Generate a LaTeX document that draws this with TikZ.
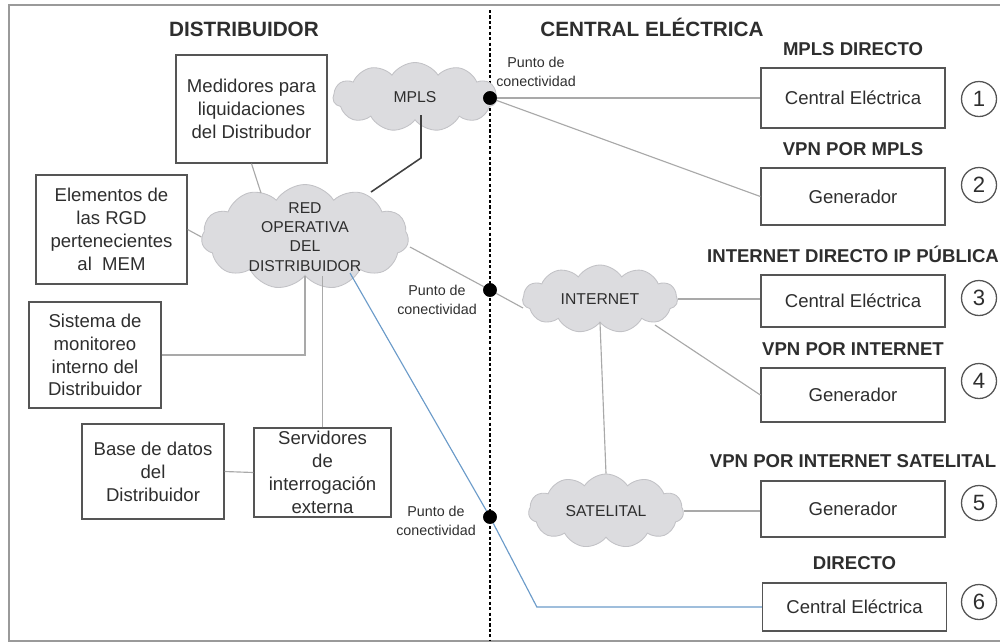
\documentclass[tikz,border=0pt]{standalone}
\usepackage{fontspec}
\setmainfont{Liberation Sans}
\usetikzlibrary
  {
    positioning,     % place nodes relative to other nodes
    shapes.symbols,  % cloud shape
    calc,
  }

\definecolor{txtgray}{HTML}{2E2E2E}
\definecolor{boxgray}{HTML}{555555}
\definecolor{linkgray}{HTML}{A9A9A9}
\definecolor{darklink}{HTML}{404040}
\definecolor{cloudfill}{HTML}{DCDCDF}
\definecolor{cloudline}{HTML}{C2C2C6}
\definecolor{linkblue}{HTML}{6B9BC9}
\definecolor{framegray}{HTML}{9A9A9A}

\begin{document}
\begin{tikzpicture}[x=0.7pt,y=-0.7pt,inner sep=0,
    box/.style={draw=boxgray,line width=0.9pt,align=center,text=txtgray,
                font=\fontsize{13}{16}\selectfont},
    nube/.style={cloud,cloud puffs=11,cloud puff arc=115,cloud ignores aspect,
                 fill=cloudfill,draw=cloudline,line width=0.6pt,align=center,
                 text=txtgray,font=\fontsize{11}{13.5}\selectfont},
    cabecera/.style={font=\fontsize{13}{13}\bfseries,text=txtgray,
                     text height=9.5pt,text depth=0pt},
    titulo/.style={font=\fontsize{14.5}{14.5}\bfseries,text=txtgray},
    etiq/.style={align=center,text=txtgray,font=\fontsize{10}{12.8}\selectfont},
    punto/.style={circle,fill=black,minimum size=9.5pt},
    num/.style={circle,draw=boxgray,line width=0.9pt,minimum size=24.5pt,
                text=txtgray,font=\fontsize{15.5}{15.5}\selectfont},
    link/.style={draw=linkgray,line width=0.8pt},
  ]
    \useasboundingbox (0,0) rectangle (1000,643);
    % frame and divider
    \draw[framegray,line width=1.4pt] (1000,5) -- (9,5) -- (9,641) -- (1000,641);
    \draw[black,line width=1pt,dash pattern=on 2.2pt off 1.6pt] (490,10) -- (490,641);

    \node (tdist) [titulo] at (244,29) {DISTRIBUIDOR};
    \node (tcent) [titulo] at (652,27) {CENTRAL ELÉCTRICA};

    % distribuidor side
    \node (med) [box,minimum width=105.7pt,minimum height=75.6pt] at (251.5,109)
          {Medidores para\\liquidaciones\\del Distribudor};
    \node (elem) [box,minimum width=105.7pt,minimum height=76.3pt] at (111.5,229.5)
          {Elementos de\\las RGD\\pertenecientes\\al~ MEM};
    \node (sis) [box,minimum width=92.4pt,minimum height=74.2pt] at (95,355)
          {Sistema de\\monitoreo\\interno del\\Distribuidor};
    \node (bd) [box,minimum width=99.4pt,minimum height=66.5pt] at (153,471.5)
          {Base de datos\\del\\Distribuidor};
    \node (serv) [box,minimum width=95.9pt,minimum height=62.3pt] at (322.5,472.5)
          {Servidores\\de\\interrogación\\externa};

    \node (mpls) [nube,minimum width=114.8pt,minimum height=48.3pt] at (415,97) {MPLS};
    \node (red) [nube,inner xsep=-2pt,inner ysep=-9pt,minimum width=145pt,minimum height=73.5pt]
          at (305,237) {RED\\OPERATIVA\\DEL\\DISTRIBUIDOR};
    \node (inet) [nube,minimum width=108.5pt,minimum height=47.6pt] at (600,299) {INTERNET};
    \node (sat) [nube,minimum width=108.5pt,minimum height=51.8pt] at (606,511) {SATELITAL};

    % central electrica side
    \node (ce1) [box,minimum width=128.8pt,minimum height=42pt] at (853,98) {Central Eléctrica};
    \node (gen2) [box,minimum width=128.8pt,minimum height=40pt] at (853,196.5) {Generador};
    \node (ce3) [box,minimum width=128.8pt,minimum height=36.4pt] at (853,301) {Central Eléctrica};
    \node (gen4) [box,minimum width=128.8pt,minimum height=37.8pt] at (853,395) {Generador};
    \node (gen5) [box,minimum width=128.8pt,minimum height=39.2pt] at (853,509) {Generador};
    \node (ce6) [box,minimum width=128.8pt,minimum height=33.6pt] at (854.5,607) {Central Eléctrica};

    \node (h1) [cabecera,above=8pt of ce1] {MPLS DIRECTO};
    \node (h2) [cabecera,above=8pt of gen2] {VPN POR MPLS};
    \node (h3) [cabecera,above=8pt of ce3] {INTERNET DIRECTO IP PÚBLICA};
    \node (h4) [cabecera,above=8pt of gen4] {VPN POR INTERNET};
    \node (h5) [cabecera,above=8.5pt of gen5] {VPN POR INTERNET SATELITAL};
    \node (h6) [cabecera,above=8.5pt of ce6] {DIRECTO};

    \foreach \n/\y in {1/99,2/185,3/298,4/381,5/503,6/602}
      \node (n\n) [num] at (979,\y) {\n};

    % connectivity points
    \node (dot1) [punto] at (490,98) {};
    \node (dot2) [punto] at (490,290) {};
    \node (dot3) [punto] at (490,517) {};
    \node (pc1) [etiq] at (536,72) {Punto de\\conectividad};
    \node (pc2) [etiq] at (437,300) {Punto de\\conectividad};
    \node (pc3) [etiq] at (436,521) {Punto de\\conectividad};

    % connectors
    \draw[darklink,line width=1.1pt] ([shift={(6,18)}]mpls.center) -- ++(0,43)
          -- ([shift={(66,-45)}]red.center);
    \draw[link] (med.south) -- ([shift={(-44,-44)}]red.center);
    \draw[link] (elem.east) -- (red.west);
    \draw[link] (sis.east) -| (red.south);
    \draw[link] (serv.north) -- (serv.north |- red.south);
    \draw[link] (bd.east) -- (serv.west);
    \draw[link] ([shift={(105,10)}]red.center) -- (dot2) -- ([shift={(-77,9)}]inet.center);
    \draw[link] (inet.east) -- (inet.east -| ce3.west);
    \draw[link] ([shift={(55,26)}]inet.center) -- (gen4.west);
    \draw[link] (inet.south) -- (sat.north);
    \draw[link] (sat.east) -- (sat.east -| gen5.west);
    \draw[link] (dot1) -- (dot1 -| ce1.west);
    \draw[link] (dot1) -- (gen2.west);
    \draw[linkblue,line width=0.8pt] ([shift={(45,36)}]red.center) -- (dot3)
          -- ([xshift=-157.5pt]ce6.west) -- (ce6.west);
    \node at (dot1) [punto] {};
    \node at (dot2) [punto] {};
    \node at (dot3) [punto] {};
\end{tikzpicture}
\end{document}
